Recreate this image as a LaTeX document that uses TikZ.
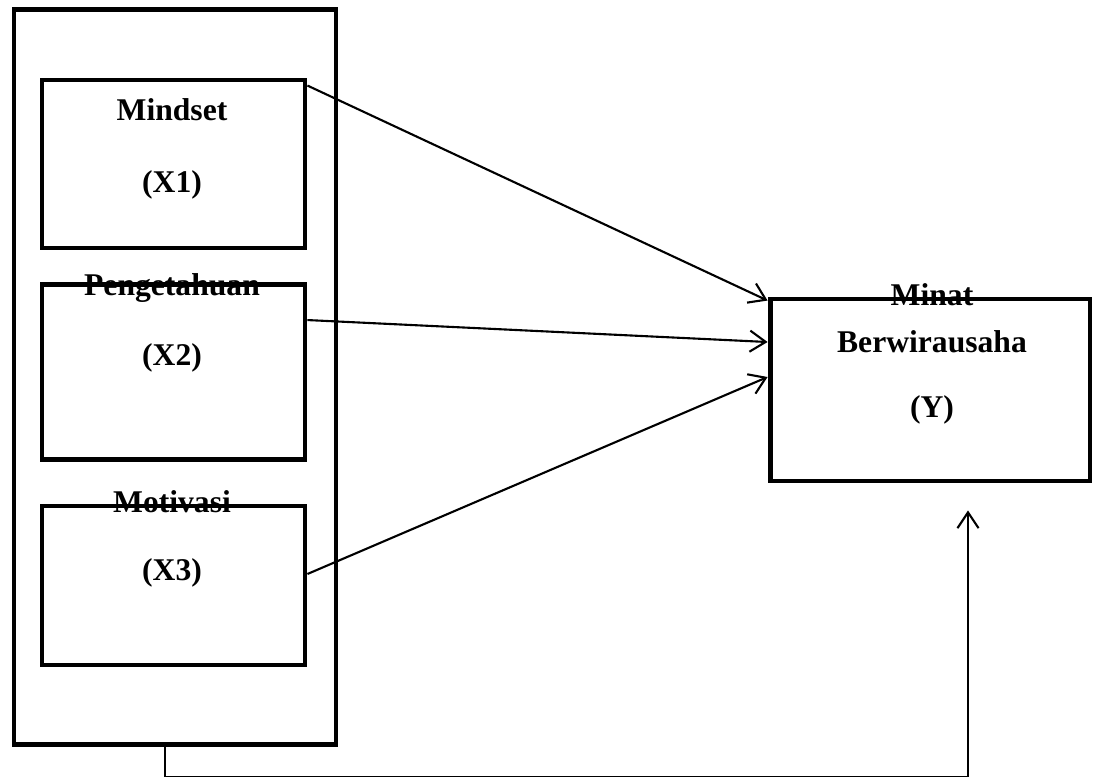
\documentclass[tikz,border=0pt]{standalone}
\usepackage{fontspec}
\setmainfont{Liberation Serif}
\usetikzlibrary{positioning,calc,arrows.meta}

\tikzset{
    varbox/.style={draw, line width=2.8pt, inner sep=0pt, minimum width=5.26cm},
    varlabel/.style={font=\fontsize{18}{21}\selectfont\bfseries, inner sep=0pt},
    link/.style={line width=1.2pt, -{Straight Barb[length=9pt,width=12pt,line width=1.2pt]}}
}

\begin{document}
\begin{tikzpicture}[x=0.02cm, y=-0.02cm]
    \useasboundingbox (0,0) rectangle (1094,777);

    % Outer frame around the independent variables
    \node[varbox, minimum width=6.44cm, minimum height=14.72cm] (outer) at (175,377) {};

    % Independent variables
    \node[varbox, minimum height=3.36cm] (x1) at (173.5,164) {};
    \node[varbox, minimum height=3.5cm] (x2) at (173.5,372) {};
    \node[varbox, minimum height=3.18cm] (x3) at (173.5,585.5) {};

    % Dependent variable
    \node[varbox, minimum width=6.4cm, minimum height=3.64cm] (y) at (930,390) {};

    % Labels
    \node[varlabel] (x1name) at (172,110) {Mindset};
    \node[varlabel] (x1code) at (172,185) {(X1)};
    \node[varlabel] (x2name) at (172,288) {Pengetahuan};
    \node[varlabel] (x2code) at (172,358) {(X2)};
    \node[varlabel] (x3name) at (172,502) {Motivasi};
    \node[varlabel] (x3code) at (172,573) {(X3)};
    \node[varlabel] (yname1) at (932,295) {Minat};
    \node[varlabel] (yname2) at (932,342) {Berwirausaha};
    \node[varlabel] (ycode) at (932,410) {(Y)};

    % Paths to Y
    \draw[link] ([yshift=-0.16cm]x1.north east) -- ([yshift=-0.08cm]y.north west);
    \draw[link] ([yshift=-0.76cm]x2.north east) -- ([yshift=0.96cm]y.west);
    \draw[link] ([yshift=0.23cm]x3.east) -- ([yshift=0.26cm]y.west);

    % Joint path to Y
    \coordinate (fbtip) at ([xshift=0.76cm, yshift=-0.54cm]y.south);
    \draw[link, line width=0.8pt] ([xshift=-0.2cm]outer.south) -- ++(0,29) -| (fbtip);
\end{tikzpicture}
\end{document}
